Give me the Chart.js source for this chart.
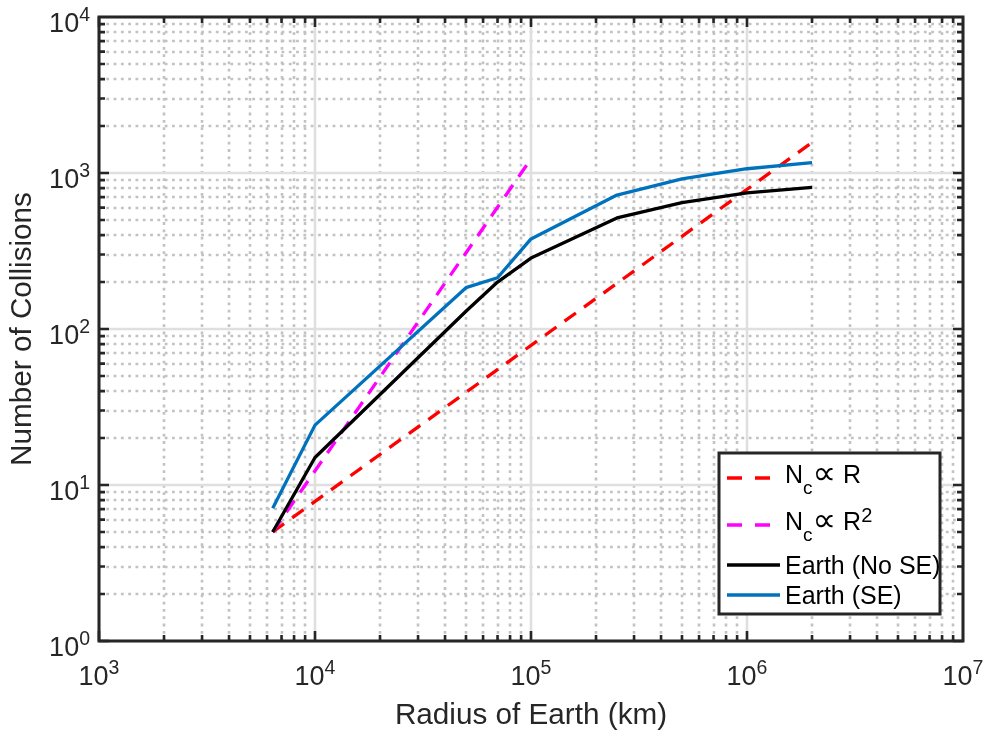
<!DOCTYPE html>
<html>
<head>
<meta charset="utf-8">
<script src="https://cdn.jsdelivr.net/npm/chart.js@4.4.1/dist/chart.umd.min.js"></script>
<style>
  html, body { margin: 0; padding: 0; background: #fff; }
  #wrap { width: 985px; height: 734px; }
</style>
</head>
<body>
<div id="wrap"><canvas id="chart" width="985" height="734"></canvas></div>
<script>
// values (km, number of collisions)
const radius_km = [6371, 1e4, 5e4, 7e4, 1e5, 2.5e5, 5e5, 1e6, 2e6];
const collisions_no_se = [5, 15, 130, 200, 285, 515, 645, 745, 810];
const collisions_se = [7.1, 24.2, 184, 213, 378, 722, 916, 1065, 1165];
const linear_fit_r = [6371, 2e6];
const linear_fit_n = [5, 1570];
const square_fit_r = [6371, 1e5];
const square_fit_n = [5, 1232];
const x_decades = [3, 4, 5, 6, 7];
const y_decades = [0, 1, 2, 3, 4];

// legend text pieces: [text, 'n' | 'sub' | 'sup' | 'sym']
const legend_labels = [
    [['N', 'n'], ['c', 'sub'], ['\u221D', 'sym'], [' R', 'n']],
    [['N', 'n'], ['c', 'sub'], ['\u221D', 'sym'], [' R', 'n'], ['2', 'sup']],
    [['Earth (No SE)', 'n']],
    [['Earth (SE)', 'n']]
];

const FONT = "'Liberation Sans', 'DejaVu Sans', Arial, sans-serif";
const AXIS_COLOR = '#262626';

function points(xs, ys) {
    return xs.map(function(x, i) { return { x: x, y: ys[i] }; });
}

// MATLAB style box, log grid, exponent tick labels and legend
const matlabAxes = {
    id: 'matlabAxes',
    beforeDatasetsDraw(chart) {
        const ctx = chart.ctx, a = chart.chartArea;
        const xs = chart.scales.x, ys = chart.scales.y;
        ctx.save();
        ctx.lineWidth = 2.6;
        ctx.strokeStyle = '#c2c2c2';
        ctx.setLineDash([2.8, 4.5]);
        for (let d = x_decades[0]; d < x_decades[x_decades.length - 1]; d++) {
            for (let m = 2; m <= 9; m++) {
                const px = Math.round(xs.getPixelForValue(m * Math.pow(10, d)));
                ctx.beginPath(); ctx.moveTo(px, a.bottom); ctx.lineTo(px, a.top); ctx.stroke();
            }
        }
        for (let d = y_decades[0]; d < y_decades[y_decades.length - 1]; d++) {
            for (let m = 2; m <= 9; m++) {
                const py = Math.round(ys.getPixelForValue(m * Math.pow(10, d)));
                ctx.beginPath(); ctx.moveTo(a.left, py); ctx.lineTo(a.right, py); ctx.stroke();
            }
        }
        ctx.setLineDash([]);
        ctx.strokeStyle = '#dfdfdf';
        ctx.lineWidth = 2.6;
        x_decades.forEach(function(d) {
            const px = xs.getPixelForValue(Math.pow(10, d));
            ctx.beginPath(); ctx.moveTo(px, a.bottom); ctx.lineTo(px, a.top); ctx.stroke();
        });
        y_decades.forEach(function(d) {
            const py = ys.getPixelForValue(Math.pow(10, d));
            ctx.beginPath(); ctx.moveTo(a.left, py); ctx.lineTo(a.right, py); ctx.stroke();
        });
        ctx.restore();
    },
    afterDatasetsDraw(chart) {
        const ctx = chart.ctx, a = chart.chartArea;
        const xs = chart.scales.x, ys = chart.scales.y;
        ctx.save();
        ctx.strokeStyle = AXIS_COLOR;
        ctx.lineWidth = 2.6;
        // tick marks, inside, on all four sides
        for (let d = x_decades[0]; d < x_decades[x_decades.length - 1]; d++) {
            for (let m = 1; m <= 9; m++) {
                const px = xs.getPixelForValue(m * Math.pow(10, d));
                const len = m === 1 ? 10 : 6;
                ctx.beginPath();
                ctx.moveTo(px, a.bottom); ctx.lineTo(px, a.bottom - len);
                ctx.moveTo(px, a.top); ctx.lineTo(px, a.top + len);
                ctx.stroke();
            }
        }
        for (let d = y_decades[0]; d < y_decades[y_decades.length - 1]; d++) {
            for (let m = 1; m <= 9; m++) {
                const py = ys.getPixelForValue(m * Math.pow(10, d));
                const len = m === 1 ? 10 : 6;
                ctx.beginPath();
                ctx.moveTo(a.left, py); ctx.lineTo(a.left + len, py);
                ctx.moveTo(a.right, py); ctx.lineTo(a.right - len, py);
                ctx.stroke();
            }
        }
        ctx.lineWidth = 3;
        ctx.strokeRect(a.left, a.top, a.right - a.left, a.bottom - a.top);

        // tick labels 10^n
        ctx.fillStyle = AXIS_COLOR;
        ctx.textBaseline = 'alphabetic';
        ctx.textAlign = 'left';
        const base = '27px ' + FONT, expo = '19.5px ' + FONT;
        x_decades.forEach(function(d) {
            const px = xs.getPixelForValue(Math.pow(10, d));
            ctx.font = base; const w1 = ctx.measureText('10').width;
            ctx.font = expo; const w2 = ctx.measureText(String(d)).width;
            const x0 = px - (w1 + w2) / 2;
            ctx.font = base; ctx.fillText('10', x0, a.bottom + 44);
            ctx.font = expo; ctx.fillText(String(d), x0 + w1, a.bottom + 33);
        });
        y_decades.forEach(function(d) {
            const py = ys.getPixelForValue(Math.pow(10, d));
            ctx.font = expo; const w2 = ctx.measureText(String(d)).width;
            ctx.font = base; const w1 = ctx.measureText('10').width;
            const x1 = 90;
            ctx.fillText('10', x1 - w2 - w1, py + 14.5);
            ctx.font = expo; ctx.fillText(String(d), x1 - w2, py + 3.5);
        });
        ctx.restore();
    },
    afterDraw(chart) {
        const ctx = chart.ctx;
        const box = { left: 719, top: 453, right: 940, bottom: 614 };
        const rows = [478, 525, 565, 595];
        ctx.save();
        ctx.fillStyle = '#ffffff';
        ctx.fillRect(box.left, box.top, box.right - box.left, box.bottom - box.top);
        chart.data.datasets.forEach(function(ds, i) {
            const y = rows[i];
            ctx.strokeStyle = ds.borderColor;
            ctx.lineWidth = 3.3;
            ctx.setLineDash(ds.borderDash ? [15, 13] : []);
            ctx.beginPath(); ctx.moveTo(727, y); ctx.lineTo(780, y); ctx.stroke();
            ctx.setLineDash([]);
            let x = 785;
            const hasSub = legend_labels[i].some(function(p) { return p[1] === 'sub'; });
            const baseline = hasSub ? y + 5 : y + 9;
            ctx.fillStyle = '#000000';
            ctx.textAlign = 'left';
            ctx.textBaseline = 'alphabetic';
            legend_labels[i].forEach(function(p) {
                let dy = 0;
                if (p[1] === 'sub') { ctx.font = '19px ' + FONT; dy = 10.5; }
                else if (p[1] === 'sup') { ctx.font = '20px ' + FONT; dy = -8; }
                else if (p[1] === 'sym') { ctx.font = "33px 'DejaVu Sans', sans-serif"; dy = 1; }
                else { ctx.font = '25px ' + FONT; }
                ctx.fillText(p[0], x, baseline + dy);
                x += ctx.measureText(p[0]).width;
            });
        });
        ctx.strokeStyle = AXIS_COLOR;
        ctx.lineWidth = 3;
        ctx.strokeRect(box.left, box.top, box.right - box.left, box.bottom - box.top);
        ctx.restore();
    }
};

const chart = new Chart(document.getElementById('chart'), {
    type: 'line',
    data: {
        datasets: [
            { label: 'Nc \u221D R', data: points(linear_fit_r, linear_fit_n), borderColor: '#ff0000', borderDash: [14, 10], order: 4 },
            { label: 'Nc \u221D R^2', data: points(square_fit_r, square_fit_n), borderColor: '#ff00ff', borderDash: [14, 10], order: 3 },
            { label: 'Earth (No SE)', data: points(radius_km, collisions_no_se), borderColor: '#000000', order: 2 },
            { label: 'Earth (SE)', data: points(radius_km, collisions_se), borderColor: '#0072bd', order: 1 }
        ]
    },
    options: {
        responsive: false,
        animation: false,
        layout: { padding: { top: 17, right: 22, left: 0, bottom: 0 } },
        elements: {
            point: { radius: 0 },
            line: { borderWidth: 3.3, tension: 0, fill: false, borderJoinStyle: 'round' }
        },
        plugins: {
            legend: { display: false },
            tooltip: { enabled: false }
        },
        scales: {
            x: {
                type: 'logarithmic',
                min: 1e3, max: 1e7,
                ticks: { display: false },
                grid: { display: false },
                border: { display: false },
                title: {
                    display: true, text: 'Radius of Earth (km)', color: AXIS_COLOR,
                    font: { family: FONT, size: 29.7 }, padding: { top: 0, bottom: 0 }
                },
                afterFit: function(scale) { scale.height = 93; }
            },
            y: {
                type: 'logarithmic',
                min: 1, max: 1e4,
                ticks: { display: false },
                grid: { display: false },
                border: { display: false },
                title: {
                    display: true, text: 'Number of Collisions', color: AXIS_COLOR,
                    font: { family: FONT, size: 29.7 }, padding: { top: 5.4, bottom: 0 }
                },
                afterFit: function(scale) { scale.width = 99; }
            }
        }
    },
    plugins: [matlabAxes]
});
</script>
</body>
</html>
